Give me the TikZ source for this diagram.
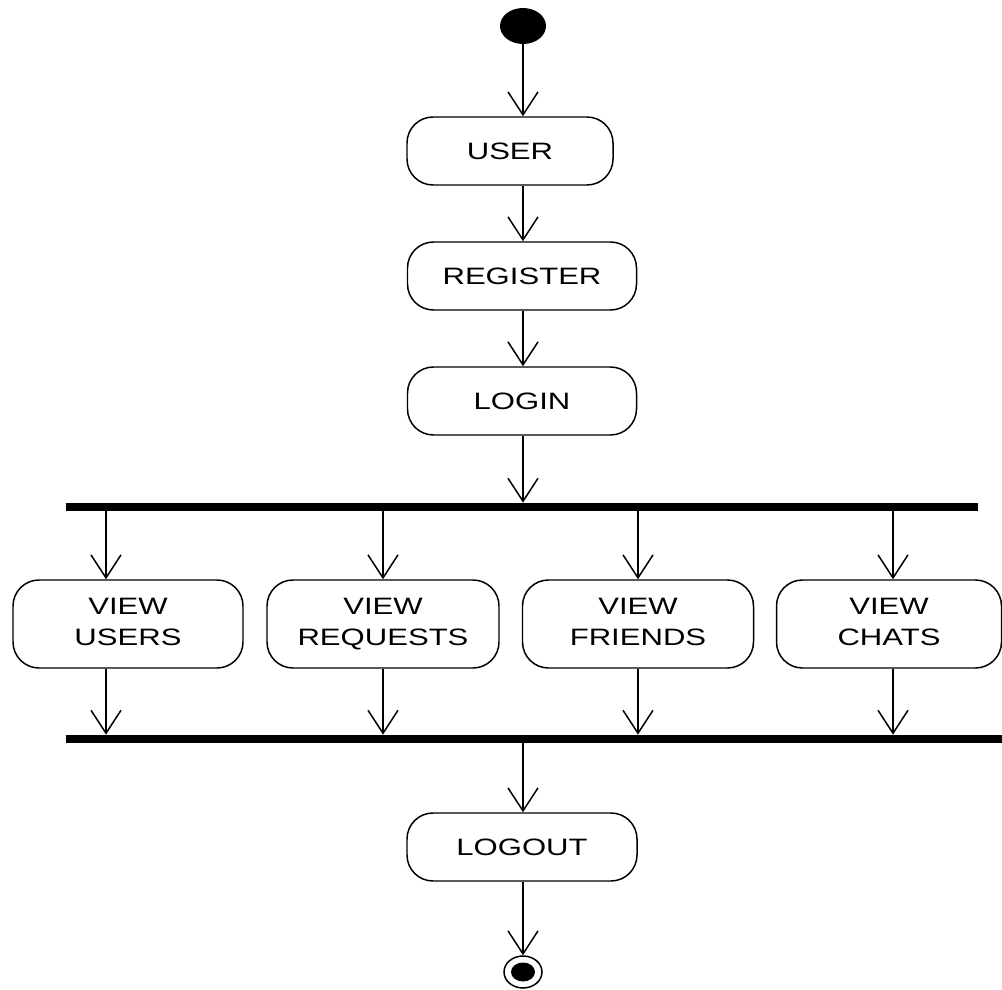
\documentclass[tikz,border=0pt]{standalone}
\usepackage{fontspec}
\usepackage{graphicx}
\setmainfont{Liberation Sans}
\usetikzlibrary{arrows.meta,shapes.geometric}
\def\px{0.02cm}
\newcommand{\sx}[1]{\scalebox{1.31}[1]{#1}}
\newcommand{\sxq}[1]{\scalebox{1.31}[1]{#1\vphantom{Q}}}
\tikzset{
  act/.style={draw, line width=0.85pt, rounded corners=26*\px, align=center,
    minimum height=68*\px, inner sep=0pt,
    font=\fontsize{13.5}{18}\selectfont},
  bar/.style={fill=black, rectangle, inner sep=0pt, minimum height=8*\px},
  flow/.style={line width=0.85pt, -{Straight Barb[length=23*\px, width=30*\px]}},
}
\begin{document}
\begin{tikzpicture}[x=0.02cm, y=-0.02cm]
\useasboundingbox (0,0) rectangle (1002,990);
% start / end
\node[ellipse, fill=black, minimum width=46*\px, minimum height=36*\px, inner sep=0pt] (start) at (523,26) {};
\node[ellipse, draw, line width=0.85pt, minimum width=38*\px, minimum height=32*\px, inner sep=0pt] (end) at (523,972) {};
\node[ellipse, fill=black, minimum width=24*\px, minimum height=19*\px, inner sep=0pt] (endin) at (523,972) {};
% main column activities
\node[act, minimum width=206*\px] (user) at (510,151) {\sx{USER}};
\node[act, minimum width=229*\px] (register) at (522,276) {\sx{REGISTER}};
\node[act, minimum width=229*\px] (login) at (522,401) {\sx{LOGIN}};
\node[act, minimum width=230*\px] (logout) at (522,847) {\sx{LOGOUT}};
% bars
\node[bar, minimum width=912*\px] (fork) at (522,507) {};
\node[bar, minimum width=936*\px] (join) at (534,739) {};
% parallel activities
\node[act, minimum width=230*\px, minimum height=88*\px] (vusers) at (128,624) {\sx{VIEW}\\\sxq{USERS}};
\node[act, minimum width=232*\px, minimum height=88*\px] (vreq) at (383,624) {\sx{VIEW}\\\sxq{REQUESTS}};
\node[act, minimum width=231*\px, minimum height=88*\px] (vfri) at (638,624) {\sx{VIEW}\\\sxq{FRIENDS}};
\node[act, minimum width=225*\px, minimum height=88*\px] (vchat) at (889,624) {\sx{VIEW}\\\sxq{CHATS}};
% arrow columns
\coordinate (c1) at (106,0);
\coordinate (c2) at (383,0);
\coordinate (c3) at (638,0);
\coordinate (c4) at (893,0);
% connectors
\draw[flow] (start.south) -- (user.north -| start);
\draw[flow] (user.south -| start) -- (register.north -| start);
\draw[flow] (register.south -| start) -- (login.north -| start);
\draw[flow] (login.south -| start) -- (fork.north -| start);
\draw[flow] (fork.south -| c1) -- (vusers.north -| c1);
\draw[flow] (fork.south -| c2) -- (vreq.north -| c2);
\draw[flow] (fork.south -| c3) -- (vfri.north -| c3);
\draw[flow] (fork.south -| c4) -- (vchat.north -| c4);
\draw[flow] (vusers.south -| c1) -- (join.north -| c1);
\draw[flow] (vreq.south -| c2) -- (join.north -| c2);
\draw[flow] (vfri.south -| c3) -- (join.north -| c3);
\draw[flow] (vchat.south -| c4) -- (join.north -| c4);
\draw[flow] (join.south -| start) -- (logout.north -| start);
\draw[flow] (logout.south -| start) -- (end.north);
\end{tikzpicture}
\end{document}
